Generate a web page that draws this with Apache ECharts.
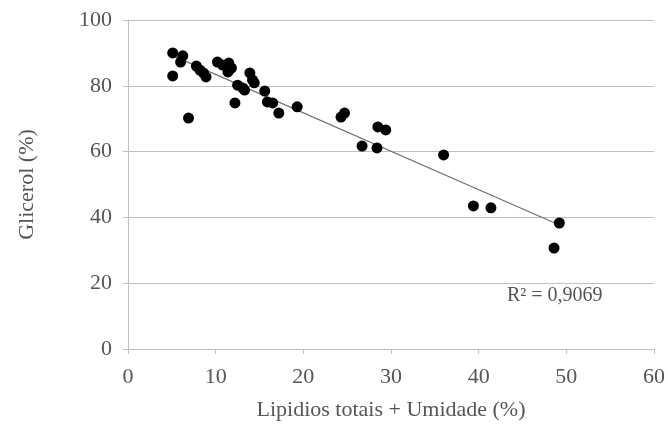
<!DOCTYPE html>
<html><head><meta charset="utf-8">
<script src="https://cdn.jsdelivr.net/npm/echarts@6/dist/echarts.min.js"></script>
<style>html,body{margin:0;padding:0;background:#fff}#c{width:668px;height:429px}</style>
</head><body><div id="c"></div>
<script>
var xValues = [5.1,6.25,6.0,5.1,6.9,7.8,8.2,8.6,8.9,10.2,10.8,11.5,11.8,11.4,12.2,12.5,13.1,13.3,13.9,14.2,14.4,15.6,15.9,16.5,17.2,19.3,24.3,24.7,26.7,28.5,29.4,28.4,36.0,39.4,41.4,49.2,48.6];
var yValues = [90.0,89.1,87.2,83.0,70.2,86.0,84.8,83.9,82.7,87.2,86.3,86.9,85.4,84.2,74.8,80.2,79.3,78.7,83.9,81.8,80.9,78.4,75.1,74.8,71.7,73.6,70.5,71.7,61.7,67.5,66.6,61.1,59.0,43.5,42.9,38.3,30.7];
var xTicks = [0,10,20,30,40,50,60];
var yTicks = [0,20,40,60,80,100];
var r2Label = 'R² = 0,9069';

var pts = xValues.map(function(x,i){return [x,yValues[i]];});
var n = xValues.length, sx=0, sy=0, sxx=0, sxy=0;
for (var i=0;i<n;i++){sx+=xValues[i];sy+=yValues[i];sxx+=xValues[i]*xValues[i];sxy+=xValues[i]*yValues[i];}
var slope=(n*sxy-sx*sy)/(n*sxx-sx*sx), icpt=(sy-slope*sx)/n;
var xmin=Math.min.apply(null,xValues), xmax=Math.max.apply(null,xValues);
var trend=[[xmin,icpt+slope*xmin],[xmax,icpt+slope*xmax]];

var font='"Liberation Serif","Times New Roman",serif';
var txt='#555555';
var chart=echarts.init(document.getElementById('c'),null,{renderer:'canvas'});
chart.setOption({
  animation:false,
  grid:{left:128,right:13,top:20,bottom:80},
  xAxis:{type:'value',min:xTicks[0],max:xTicks[xTicks.length-1],interval:10,
    axisLine:{show:true,lineStyle:{color:'#bfbfbf'}},
    axisTick:{show:true,length:5,lineStyle:{color:'#bfbfbf'}},
    splitLine:{show:false},
    axisLabel:{color:txt,fontFamily:font,fontSize:22,margin:17},
    name:'Lipidios totais + Umidade (%)',nameLocation:'middle',nameGap:50,
    nameTextStyle:{color:txt,fontFamily:font,fontSize:22}},
  yAxis:{type:'value',min:yTicks[0],max:yTicks[yTicks.length-1],interval:20,
    axisLine:{show:true,lineStyle:{color:'#bfbfbf'}},
    axisTick:{show:true,length:5,lineStyle:{color:'#bfbfbf'}},
    splitLine:{show:true,lineStyle:{color:'#bfbfbf',width:1}},
    axisLabel:{color:txt,fontFamily:font,fontSize:22,margin:16},
    name:'Glicerol (%)',nameLocation:'middle',nameGap:90,nameRotate:90,
    nameTextStyle:{color:txt,fontFamily:font,fontSize:22}},
  series:[
    {type:'line',data:trend,symbol:'none',lineStyle:{color:'#707070',width:1.2},z:1},
    {type:'scatter',data:pts,symbol:'circle',symbolSize:11,itemStyle:{color:'#000',opacity:1},z:2}
  ],
  graphic:[{type:'text',left:507,top:286,style:{text:r2Label,fill:txt,font:'20px '+font}}]
});
</script></body></html>
